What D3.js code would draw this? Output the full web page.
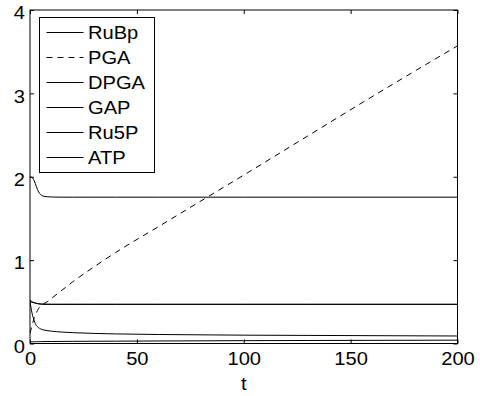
<!DOCTYPE html>
<html>
<head>
<meta charset="utf-8">
<script src="https://cdn.jsdelivr.net/npm/d3@7"></script>
<style>
  body { margin: 0; background: #fff; }
  svg { display: block; font-family: "Liberation Sans", Arial, sans-serif; }
</style>
</head>
<body>
<div id="chart"></div>
<script>
// time samples and the six concentrations
const tVals  = [0, 1, 2, 3, 4, 5, 6, 8, 10, 15, 20, 30, 40, 60, 80, 100, 130, 160, 200];
const rubp   = [2.0, 1.99, 1.95, 1.88, 1.82, 1.785, 1.77, 1.76, 1.757, 1.755, 1.755, 1.755, 1.755, 1.755, 1.755, 1.755, 1.755, 1.755, 1.755];
const pga    = [0.12, 0.22, 0.31, 0.37, 0.42, 0.45, 0.47, 0.5, 0.54, 0.64, 0.74, 0.92, 1.09, 1.4, 1.71, 2.02, 2.49, 2.96, 3.57];
const dpga   = [0.02, 0.02, 0.021, 0.022, 0.022, 0.023, 0.023, 0.024, 0.024, 0.025, 0.026, 0.027, 0.028, 0.03, 0.032, 0.034, 0.036, 0.038, 0.04];
const gap    = [0.52, 0.5, 0.49, 0.482, 0.477, 0.474, 0.472, 0.471, 0.47, 0.47, 0.47, 0.47, 0.47, 0.47, 0.47, 0.47, 0.47, 0.47, 0.47];
const ru5p   = [0.5, 0.36, 0.27, 0.215, 0.19, 0.175, 0.165, 0.155, 0.148, 0.137, 0.13, 0.121, 0.115, 0.108, 0.104, 0.1, 0.097, 0.094, 0.09];
const atp    = [0.5, 0.495, 0.488, 0.481, 0.476, 0.473, 0.471, 0.47, 0.47, 0.47, 0.47, 0.47, 0.47, 0.47, 0.47, 0.47, 0.47, 0.47, 0.47];
const names  = ['RuBp', 'PGA', 'DPGA', 'GAP', 'Ru5P', 'ATP'];
const dashes = [null, '6,5', null, null, null, null];
const xTicks = [0, 50, 100, 150, 200];
const yTicks = [0, 1, 2, 3, 4];

const series = [rubp, pga, dpga, gap, ru5p, atp];

const W = 480, H = 396;
const margin = { top: 10, right: 22.5, bottom: 52.5, left: 30 };
const cw = W - margin.left - margin.right;
const ch = H - margin.top - margin.bottom;

const svg = d3.select('#chart').append('svg').attr('width', W).attr('height', H);
const g = svg.append('g').attr('transform', `translate(${margin.left},${margin.top})`);

const x = d3.scaleLinear().domain([0, 200]).range([0, cw]);
const y = d3.scaleLinear().domain([0, 4]).range([ch, 0]);

svg.append('defs').append('clipPath').attr('id', 'clip')
  .append('rect').attr('width', cw).attr('height', ch);

// curves
const line = d3.line().x((d, i) => x(tVals[i])).y(d => y(d)).curve(d3.curveMonotoneX);
const plot = g.append('g').attr('clip-path', 'url(#clip)');
series.forEach((s, k) => {
  plot.append('path')
    .attr('d', line(s))
    .attr('fill', 'none')
    .attr('stroke', '#000')
    .attr('stroke-width', 1)
    .attr('stroke-dasharray', dashes[k]);
});

// the original figure text is a bit wide, so stretch it horizontally
const fs = 17.5;
const stretch = 'scale(1.15,1)';
const fmt = d3.format('d');
function styleAxis(sel) {
  sel.select('.domain').remove();
  sel.selectAll('line').attr('stroke', '#000');
  sel.selectAll('text').attr('font-size', fs).attr('fill', '#000')
    .attr('font-family', '"Liberation Sans", Arial, sans-serif')
    .attr('transform', stretch);
}
g.append('g').attr('transform', `translate(0,${ch})`)
  .call(d3.axisBottom(x).tickValues(xTicks).tickFormat(fmt).tickSizeInner(-4).tickSizeOuter(0).tickPadding(9))
  .call(styleAxis);
g.append('g')
  .call(d3.axisTop(x).tickValues(xTicks).tickSizeInner(-4).tickSizeOuter(0).tickFormat(''))
  .call(styleAxis);
g.append('g')
  .call(d3.axisLeft(y).tickValues(yTicks).tickFormat(fmt).tickSizeInner(-4).tickSizeOuter(0).tickPadding(4.5))
  .call(styleAxis)
  .selectAll('text').attr('dy', '0.5em');
g.append('g').attr('transform', `translate(${cw},0)`)
  .call(d3.axisRight(y).tickValues(yTicks).tickSizeInner(-4).tickSizeOuter(0).tickFormat(''))
  .call(styleAxis);

g.append('rect').attr('width', cw).attr('height', ch)
  .attr('fill', 'none').attr('stroke', '#000').attr('stroke-width', 1);

svg.append('text')
  .attr('transform', `translate(${margin.left + cw / 2},390) ${stretch}`)
  .attr('text-anchor', 'middle').attr('font-size', fs)
  .text('t');

// legend
const leg = svg.append('g').attr('transform', 'translate(39.5,17.5)');
leg.append('rect').attr('width', 115).attr('height', 155)
  .attr('fill', '#fff').attr('stroke', '#000').attr('stroke-width', 1);
names.forEach((n, k) => {
  const cy = 15 + k * 25;
  leg.append('line')
    .attr('x1', 7).attr('x2', 44).attr('y1', cy).attr('y2', cy)
    .attr('stroke', '#000').attr('stroke-width', 1)
    .attr('stroke-dasharray', dashes[k]);
  leg.append('text')
    .attr('transform', `translate(48.5,${cy + 6.4}) ${stretch}`)
    .attr('font-size', fs)
    .text(n);
});
</script>
</body>
</html>
